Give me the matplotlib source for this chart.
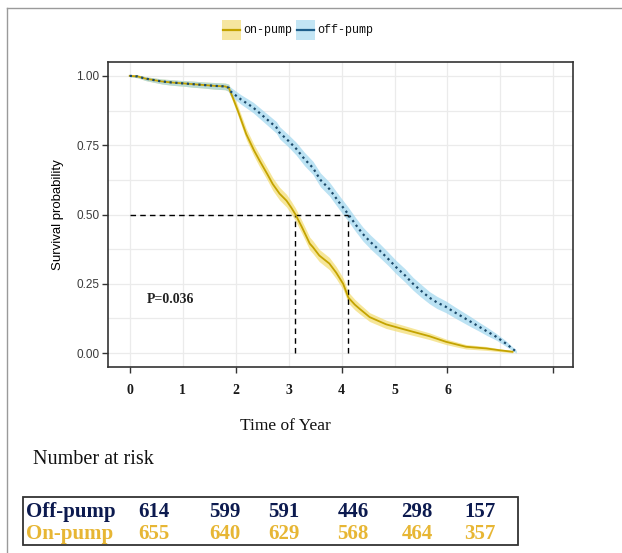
import matplotlib
matplotlib.use("Agg")
import matplotlib.pyplot as plt
from matplotlib.patches import Rectangle
from matplotlib.lines import Line2D
import numpy as np

# ---------------- data ----------------
groups = ["on-pump", "off-pump"]

early_t = [0, 0.15, 0.3, 0.45, 0.6, 0.8, 1.0, 1.2, 1.4, 1.6, 1.8, 1.87]
early_s = [1.0, 0.998, 0.99, 0.985, 0.98, 0.976, 0.973, 0.970, 0.967, 0.964, 0.962, 0.957]
early_ci = [0.003, 0.005, 0.007, 0.008, 0.009, 0.010, 0.010, 0.011, 0.011, 0.012, 0.012, 0.013]

on_t = early_t + [1.95, 2.05, 2.2, 2.35, 2.45, 2.6, 2.7, 2.83, 2.96, 3.05, 3.13, 3.25, 3.40,
                  3.46, 3.58, 3.77, 3.9, 4.03, 4.13, 4.25, 4.34, 4.53, 4.84, 5.1, 5.35, 5.66,
                  5.97, 6.2, 6.35, 6.73, 7.0, 7.23]
on_s = early_s + [0.92, 0.87, 0.79, 0.73, 0.695, 0.645, 0.61, 0.575, 0.55, 0.525, 0.50, 0.455,
                  0.395, 0.382, 0.352, 0.323, 0.29, 0.25, 0.20, 0.175, 0.16, 0.13, 0.104, 0.09,
                  0.077, 0.061, 0.041, 0.03, 0.023, 0.017, 0.01, 0.005]
on_ci = early_ci + [0.015, 0.017, 0.020, 0.021, 0.022, 0.022, 0.023, 0.023, 0.023, 0.023, 0.023,
                    0.023, 0.023, 0.023, 0.022, 0.022, 0.022, 0.021, 0.020, 0.019, 0.018, 0.016,
                    0.015, 0.014, 0.013, 0.012, 0.010, 0.009, 0.008, 0.007, 0.005, 0.004]

off_t = early_t + [1.89, 2.1, 2.33, 2.55, 2.77, 2.83, 3.0, 3.14, 3.3, 3.46, 3.6, 3.77, 3.95,
                   4.13, 4.26, 4.40, 4.55, 4.72, 4.88, 5.03, 5.2, 5.35, 5.5, 5.66, 5.8, 5.97,
                   6.13, 6.29, 6.45, 6.60, 6.75, 6.92, 7.1, 7.30]
off_s = early_s + [0.946, 0.915, 0.886, 0.85, 0.814, 0.795, 0.765, 0.738, 0.70, 0.668, 0.625,
                   0.592, 0.545, 0.50, 0.465, 0.43, 0.40, 0.37, 0.34, 0.31, 0.28, 0.25, 0.225,
                   0.20, 0.183, 0.167, 0.148, 0.13, 0.112, 0.095, 0.078, 0.059, 0.035, 0.005]
off_ci = early_ci + [0.015, 0.017, 0.019, 0.020, 0.021, 0.022, 0.022, 0.023, 0.024, 0.024, 0.025,
                     0.025, 0.025, 0.025, 0.025, 0.025, 0.025, 0.025, 0.024, 0.024, 0.024, 0.023,
                     0.023, 0.022, 0.022, 0.021, 0.020, 0.019, 0.018, 0.016, 0.015, 0.012,
                     0.010, 0.005]

medians = {"on-pump": 3.13, "off-pump": 4.13}
p_text = "P=0.036"

xtick_labels = ["0", "1", "2", "3", "4", "5", "6"]
risk_rows = ["Off-pump", "On-pump"]
risk_off = [614, 599, 591, 446, 298, 157]
risk_on = [655, 640, 629, 568, 464, 357]

# ---------------- styling ----------------
W, H = 622, 553
fig = plt.figure(figsize=(W / 100, H / 100), dpi=100)
fig.patch.set_facecolor("white")

def fx(x):
    return x / W

def fy(y):
    return 1 - y / H

on_line = "#c4a300"
on_band = "#f3dc6e"
off_line = "#1b4a6b"
off_band = "#9fd6ee"

ax_l, ax_r, ax_t, ax_b = 108, 573, 62, 367
ax = fig.add_axes([fx(ax_l), fy(ax_b), (ax_r - ax_l) / W, (ax_b - ax_t) / H])
ax.set_xlim(-0.41, 8.37)
ax.set_ylim(-0.05, 1.05)

# grid
ax.set_xticks([0, 2, 4, 6, 8])
ax.set_xticks(np.arange(0, 9, 1), minor=True)
ax.set_yticks([0, 0.25, 0.5, 0.75, 1.0])
ax.set_yticks(np.arange(0, 1.01, 0.125), minor=True)
ax.grid(True, which="both", color="#ebebeb", lw=0.9)
ax.set_axisbelow(True)
ax.tick_params(axis="x", which="major", length=4, width=1, color="#333333", labelbottom=False)
ax.tick_params(axis="both", which="minor", length=0)
ax.tick_params(axis="y", which="major", length=4, width=1, color="#333333",
               labelsize=8.5, labelcolor="#3a3a3a", pad=2)
ax.set_yticklabels(["0.00", "0.25", "0.50", "0.75", "1.00"], family="Liberation Sans")
for s in ax.spines.values():
    s.set_color("#333333")
    s.set_linewidth(1.2)

# bands
ax.fill_between(on_t, np.array(on_s) - np.array(on_ci), np.array(on_s) + np.array(on_ci),
                color=on_band, alpha=0.7, lw=0)
ax.fill_between(off_t, np.array(off_s) - np.array(off_ci), np.array(off_s) + np.array(off_ci),
                color=off_band, alpha=0.7, lw=0)

# median lines
m_on, m_off = medians["on-pump"], medians["off-pump"]
ax.plot([0, m_off], [0.5, 0.5], color="black", lw=1.0, ls=(0, (4, 3)))
ax.plot([m_on, m_on], [0, 0.5], color="black", lw=1.0, ls=(0, (4, 3)))
ax.plot([m_off, m_off], [0, 0.5], color="black", lw=1.0, ls=(0, (4, 3)))

# curves
ax.plot(on_t, on_s, color=on_line, lw=1.3)
ax.plot(off_t, off_s, color=off_line, lw=1.6, ls=(0, (1, 1.6)))

ax.text(0.33, 0.195, p_text, family="Liberation Serif", weight="bold", fontsize=10,
        va="center", ha="left", color="#222222")

ax.set_ylabel("Survival probability", family="Liberation Sans", fontsize=9.5,
              color="black", labelpad=9)

# x tick labels (pasted style)
for i, lab in enumerate(xtick_labels):
    ax.text(i, (ax_b - 390) / (ax_b - ax_t), lab, transform=ax.get_xaxis_transform(),
            ha="center", va="center", family="Liberation Serif", weight="bold",
            fontsize=10, color="#1a1a1a")

fig.text(fx(285), fy(426), "Time of Year", family="Liberation Serif", fontsize=12.5,
         ha="center", va="center", color="#111111")

# legend
def legend_key(x0, face, line):
    fig.add_artist(Rectangle((fx(x0), fy(40)), 19 / W, 20 / H, transform=fig.transFigure,
                             facecolor=face, edgecolor="none"))
    fig.add_artist(Line2D([fx(x0 + 1), fx(x0 + 18)], [fy(30), fy(30)], transform=fig.transFigure,
                          color=line, lw=1.6))

legend_key(222, "#f6e6a0", on_line)
fig.text(fx(243), fy(30), groups[0], family="Liberation Mono", fontsize=8.5, va="center",
         ha="left", color="#111111")
legend_key(296, "#c3e5f4", "#1f5f8b")
fig.text(fx(317), fy(30), groups[1], family="Liberation Mono", fontsize=8.5, va="center",
         ha="left", color="#111111")

# outer frame (top and left)
fig.add_artist(Line2D([fx(7), fx(W)], [fy(8), fy(8)], transform=fig.transFigure,
                      color="#9a9a9a", lw=1.0))
fig.add_artist(Line2D([fx(7), fx(7)], [fy(8), fy(H)], transform=fig.transFigure,
                      color="#9a9a9a", lw=1.0))

# Number at risk
fig.text(fx(33), fy(460), "Number at risk", family="Liberation Serif", fontsize=14.5,
         ha="left", va="center", color="#111111")

fig.add_artist(Rectangle((fx(23), fy(545)), (518 - 23) / W, (545 - 497) / H,
                         transform=fig.transFigure, facecolor="white",
                         edgecolor="#333333", lw=1.3))

navy = "#0c1a4f"
gold = "#e7b634"
col_x = [154, 225, 284, 353, 417, 480]
fig.text(fx(26), fy(512), risk_rows[0], family="Liberation Serif", weight="bold",
         fontsize=15, color=navy, ha="left", va="center")
fig.text(fx(26), fy(534), risk_rows[1], family="Liberation Serif", weight="bold",
         fontsize=15, color=gold, ha="left", va="center")
for x, a, b in zip(col_x, risk_off, risk_on):
    fig.text(fx(x), fy(512), str(a), family="Liberation Serif", weight="bold",
             fontsize=15, color=navy, ha="center", va="center")
    fig.text(fx(x), fy(534), str(b), family="Liberation Serif", weight="bold",
             fontsize=15, color=gold, ha="center", va="center")

fig.savefig("out.png", dpi=100, facecolor="white")
